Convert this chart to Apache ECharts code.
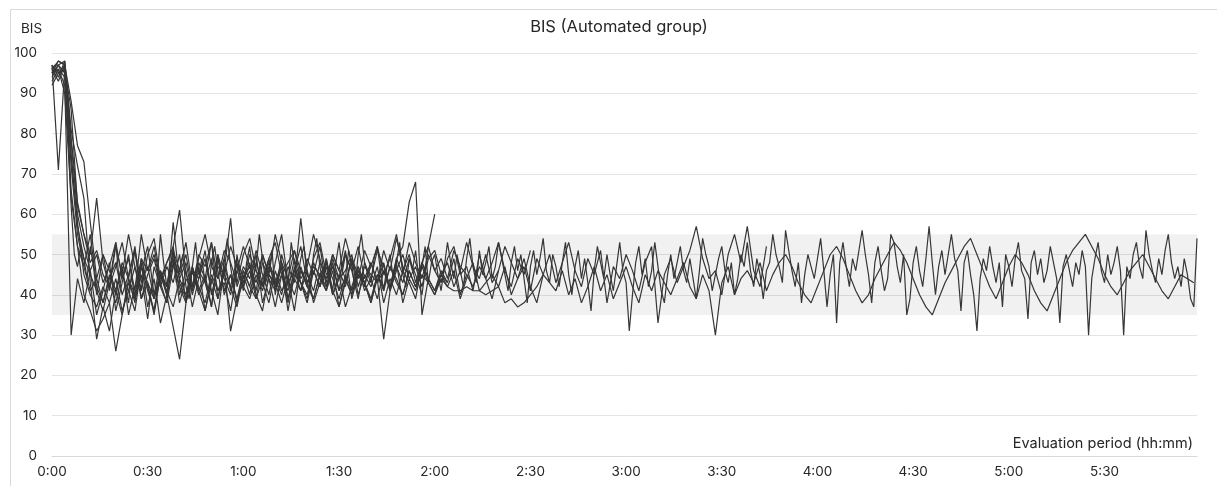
<!DOCTYPE html>
<html><head><meta charset="UTF-8">
<title>BIS (Automated group)</title>
<script src="https://cdn.jsdelivr.net/npm/echarts@6/dist/echarts.min.js"></script>
<style>html,body{margin:0;padding:0;background:#fff;}</style>
</head>
<body>
<div id="g1" style="width:1217px;height:486px;"></div>
<script type="text/javascript">
// x axis: one category per minute, 0:00 .. 5:59
var times = [];
for (var m = 0; m < 360; m++) {
    var mm = m % 60;
    times.push(Math.floor(m / 60) + ':' + (mm < 10 ? '0' + mm : mm));
}
var yTicks = [0, 10, 20, 30, 40, 50, 60, 70, 80, 90, 100];
var band = [35, 55];

// patient 1: one value per minute
var p1 = [96,97,97,95,94,80,62,50,47,52,49,44,52,47,40,45,50,46,41,48,
    53,44,47,42,38,46,51,45,41,49,52,46,40,44,55,48,42,47,51,43,
    46,50,42,39,47,53,45,49,43,40,48,52,46,41,49,54,47,42,50,45,
    41,48,52,44,47,55,49,43,46,51,40,45,50,47,42,53,48,44,49,52,
    46,42,50,54,47,43,49,45,41,48,53,46,44,51,47,42,50,55,48,45,
    43,49,52,46,41,47,50,44,48,53,45,42,49,46,51,44,47,52,43,48,
    50,45,41,47,53,48,44,50,46,42,49,54,47,43,51,45,48,52,44,47,
    53,49,45,41,48,52,46,50,44,38,47,51,45,49,54,46,43,50,47,42,
    48,53,45,40,47,51,44,49,43,36,46,52,48,44,50,45,41,47,53,46,
    43,31,40,48,52,45,49,42,46,53,47,41,38,45,50,44,48,52,46,43,
    49,44,39,46,54,50,47,41,45,49,52,46,43,48,40,44,50,47,53,46,
    42,49,45,39,46,48,55,50,47,43,56,51,46,42,48,38,45,50,47,44,
    49,54,46,37,45,50,33,48,53,47,42,49,46,51,56,50,45,38,48,52,
    46,41,44,55,53,47,43,50,35,39,48,52,46,42,49,57,48,40,47,51,
    45,50,55,49,46,36,48,51,45,40,31,44,49,46,52,47,43,48,37,50,
    47,42,49,53,46,44,34,48,51,45,49,43,46,52,48,44,33,47,50,46,
    42,48,45,51,47,30,44,49,53,46,43,50,45,48,52,46,30,47,44,50,
    53,47,44,56,50,46,43,49,45,51,55,48,44,47,42,49,45,39,37,54];

// patients 2..12: one value every 2 minutes
var p2 = [97,95,96,74,58,45,40,37,42,38, 44,36,41,47,39,43,35,45,40,48, 42,38,46,40,44,37,49,41,45,39,
    43,48,40,36,45,42,47,39,44,41, 46,38,43,49,40,45,37,42,47,41, 44,39,46,42,48,38,44,41,47,43,
    40,45,42,46,39,44,48,41,43,45, 42,47,40,44,49,42,38,45,43,41, 46,40,44,38,42,47,41,45,39,43,
    47,42,38,45,41,46,43,40,44,48, 42,39,45,41,30,43,47,40,44,46, 43,48,
    41,45,48,50,47,43,40,38,42,46, 50,52,49,45,41,38,40,44,47,50, 53,51,48,44,40,37,35,39,43,46,
    49,52,54,50,46,42,39,43,47,50, 48,45,41,38,36,40,44,48,51,53, 55,52,49,45,42,40,43,46,48,50,
    47,44,41,39,42,45,44,43];
var p3 = [95,98,97,88,77,73,58,44,50,46, 41,48,44,52,39,45,49,42,47,43, 50,38,46,44,51,40,47,45,42,49,
    44,47,41,50,45,43,48,39,46,52, 43,47,45,41,49,44,46,50,42,47, 45,43,48,41,46,50,44,47,42,49,
    51,45,48,42,46,53,47,44,50,43, 46,52,48,44,47,41,49,45,50,43, 48,53,46,42,49,45,51,38,47,44,
    50,46,41,48,52,33,45,49,43,47, 51,57,49,44,46,40,50,55,48,57, 46,42,52];
var p4 = [97,71,96,86,62,55,48,51,45,42, 47,53,44,40,49,46,52,43,38,47, 45,50,41,48,44,53,39,46,59,42,
    47,44,51,45,40,48,55,43,46,41, 49,45,52,42,47,44,50,46,39,48, 44,51,47,42,49,45,53,48,44,50,
    46,43,49,52,45,47,41,50,44,48, 53,46,42,49,45,51];
var p5 = [93,96,92,30,44,38,46,35,41,48, 36,43,50,39,45,34,47,42,38,52, 40,46,37,44,49,41,35,47,31,39,
    46,42,50,38,44,41,47,36,45,43, 39,48,44,41,46,37,43,49,40,45, 42,47,38,44,40,46,43,39,48,44,
    41,46,43,49,40,45,42,47,44,39,46];
var p6 = [94,97,98,79,63,55,50,64,48,42, 52,45,55,47,41,50,54,44,48,51, 46,53,42,49,55,47,44,51,48,43,
    50,54,46,42,49,53,45,48,51,44, 47,55,49,43,50,46,54,48,44,51, 47,52,45,49,55,46,50,43,48,52,
    46,49,44,51,47,45];
var p7 = [96,93,97,66,52,40,36,31,34,38, 26,35,43,39,47,41,36,45,42,49, 38,44,41,47,36,43,50,40,45,38,
    46,42,39,48,44,37,45,41,49,43, 38,46,42,47,40,44,51,39,45,42, 48,43,46,41,49,52,63,68,35,44];
var p8 = [95,97,95,72,55,47,41,44,38,45, 40,47,35,42,48,37,44,33,40,32, 24,38,46,41,36,44,39,47,42,37,
    45,40,48,43,38,46,41,44,36,47, 42,39,45,48,41,37,44,40,46,43, 38,45,41,47,43,40,46,42,48,44,
    41,45,43];
var p9 = [92,95,97,78,60,52,46,50,43,47, 53,44,49,41,55,46,50,43,48,52, 61,45,42,50,47,53,44,49,41,46,
    52,47,43,50,45,55,48,44,51,46, 42,49,53,45,47,41,50,46,52,44, 48,43,51,46,54,47,45];
var p10 = [97,94,98,81,72,64,43,29,37,31, 41,35,44,38,49,42,36,46,40,58, 43,39,47,41,45,37,50,44,40,48,
    42,46,39,44,49,41,45,38,47,43, 40,46,42,48,44,39,45,41,47,43, 38,44,29,41,47,43,49,45,40,52,60];
var p11 = [95,96,90,64,52,47,55,42,38,44, 48,40,45,51,43,47,39,46,42,50, 44,48,40,46,43,49,41,45,52,47,
    43,50,46,42,48,44,40,47,43,59, 45,41,48,44,50,46,42,49,45,43,47];
var p12 = [96,98,97,75,57,49,45,41,36,43, 38,45,41,36,47,43,39,45,41,37, 44,40,47,42,38,45,41,43,36,46,
    42,39,45,41,47,43,38,44,40,46, 43,39,45,42,48,41,44,40,46,43, 39,45,42,47,44,40,46,42,45,43,
    40,44,42,41,41,42,41,41,40,41, 42,38,39,37,38,40,42,45];

var perMinute = [p1];
var perTwoMinutes = [p2, p3, p4, p5, p6, p7, p8, p9, p10, p11, p12];

function lineSeries(name, data) {
    return {
        name: name, type: 'line', data: data, z: 2,
        showSymbol: false, symbol: 'none',
        lineStyle: {color: '#363636', width: 1.2}
    };
}

var series = [{
    name: 'band', type: 'line', data: [], silent: true, z: 1,
    markArea: {
        silent: true,
        itemStyle: {color: 'rgba(0,0,0,0.055)'},
        data: [[{yAxis: band[0]}, {yAxis: band[1]}]]
    }
}];
perMinute.forEach(function (arr, k) {
    series.push(lineSeries('m' + k, arr));
});
perTwoMinutes.forEach(function (arr, k) {
    series.push(lineSeries('t' + k, arr.map(function (v, i) { return [i * 2, v]; })));
});

var font = 'Inter';
var dark = '#262626';

var option = {
    animation: false,
    backgroundColor: '#fff',
    title: [
        {text: 'BIS', left: 16, top: 17,
         textStyle: {color: dark, fontFamily: font, fontSize: 13.5, fontWeight: 'normal'}},
        {text: 'Evaluation period (hh:mm)', right: 19, top: 431,
         textStyle: {color: dark, fontFamily: font, fontSize: 14.5, fontWeight: 'normal'}}
    ],
    graphic: [{
        type: 'rect', left: 8, top: 7, silent: true,
        shape: {width: 1215, height: 485},
        style: {fill: 'none', stroke: '#d9d9d9', lineWidth: 1}
    }, {
        type: 'text', x: 619, y: 27, silent: true,
        style: {text: 'BIS (Automated group)', align: 'center', verticalAlign: 'middle',
                fill: dark, font: '16.5px Inter'}
    }],
    grid: {left: 52, right: 20, top: 53, bottom: 30},
    xAxis: {
        type: 'category', data: times, boundaryGap: false,
        axisLine: {lineStyle: {color: '#d9d9d9'}},
        axisTick: {show: false},
        axisLabel: {interval: 29, margin: 9, color: dark, fontFamily: font, fontSize: 13.5},
        splitLine: {show: false}
    },
    yAxis: {
        type: 'value', min: yTicks[0], max: yTicks[yTicks.length - 1], interval: 10,
        axisLine: {show: false}, axisTick: {show: false},
        axisLabel: {margin: 15, color: dark, fontFamily: font, fontSize: 13.5},
        splitLine: {lineStyle: {color: '#e4e4e4', width: 1}}
    },
    series: series
};

var myChart = echarts.init(document.getElementById('g1'));
myChart.setOption(option);
</script>
</body></html>
